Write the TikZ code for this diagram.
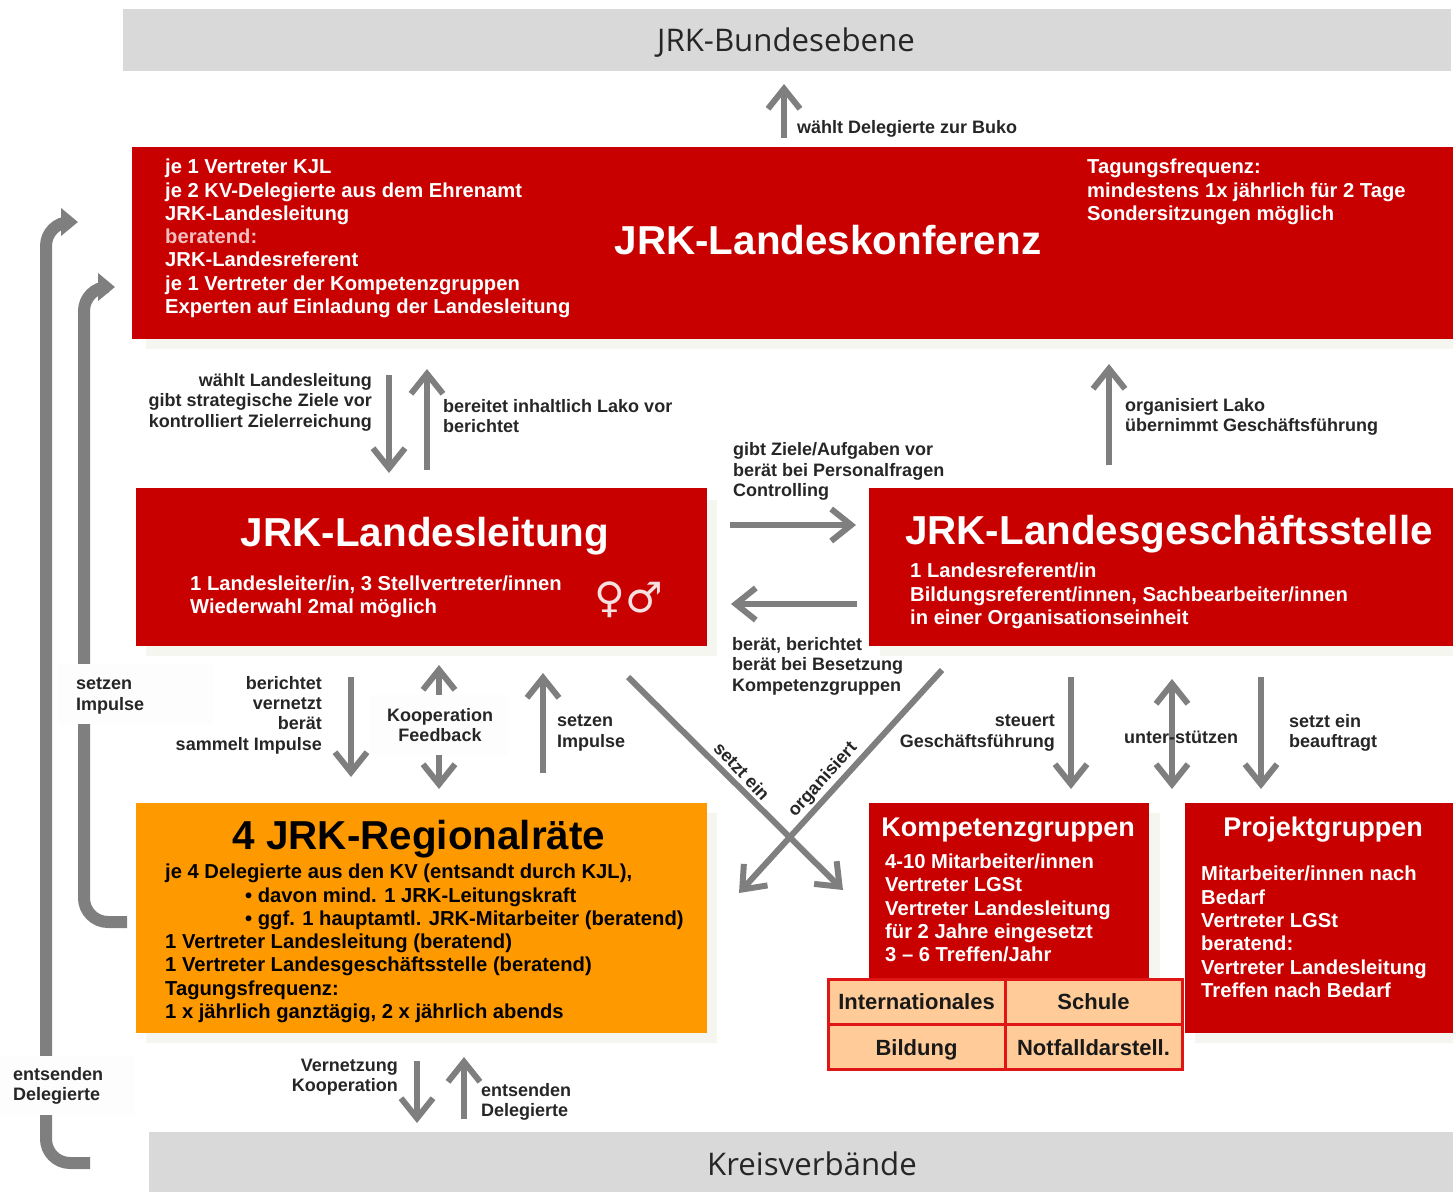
\documentclass[tikz,border=0pt]{standalone}
\usepackage{fontspec}
\usetikzlibrary{arrows.meta}
\setmainfont{Liberation Sans}
\newfontfamily\lblf{Liberation Sans Bold}
\newfontfamily\boxf{Liberation Sans Bold}
\newfontfamily\titf{Liberation Sans}[BoldFont={Liberation Sans Bold}]
\newfontfamily\barf{Open Sans}
\newfontfamily\symf{DejaVu Sans}
\definecolor{jrkred}{HTML}{C80000}
\definecolor{jrkorange}{HTML}{FF9900}
\definecolor{jrkgrey}{HTML}{D9D9D9}
\definecolor{jrkarrow}{HTML}{7F7F7F}
\definecolor{jrkpeach}{HTML}{FFCC99}
\definecolor{jrkline}{HTML}{E01515}
\definecolor{jrkshadow}{HTML}{F6F6F1}
\definecolor{jrkbox}{HTML}{FDFDFD}
\tikzset{
  arr/.style={draw=jrkarrow,line width=6pt,-{Straight Barb[length=20pt,width=32pt,line width=6pt]}},
  arrboth/.style={draw=jrkarrow,line width=6pt,{Straight Barb[length=20pt,width=32pt,line width=6pt]}-{Straight Barb[length=20pt,width=32pt,line width=6pt]}},
  bentarrow/.style={draw=jrkarrow,line width=12pt,rounded corners=24pt,-{Triangle[length=17pt,width=27pt]}},
  shadowbox/.style={fill=jrkshadow,draw=none},
  lbl/.style={font=\fontsize{18}{20.4}\lblf,inner sep=0pt,text=black!85},
  lblL/.style={lbl,anchor=west,align=left},
  lblR/.style={lbl,anchor=east,align=right},
  lblC/.style={lbl,anchor=center,align=center},
  boxtext/.style={font=\fontsize{20.2}{23.3}\boxf,inner sep=0pt,text=white,anchor=west,align=left},
  bigtitle/.style={font=\fontsize{40.4}{44}\titf\bfseries,inner sep=0pt,text=white,anchor=center},
  subtitle/.style={font=\fontsize{27}{32}\titf\bfseries,inner sep=0pt,text=white,anchor=center},
  tablecell/.style={fill=jrkpeach,draw=jrkline,line width=3pt},
  celltext/.style={font=\fontsize{22}{24}\boxf,inner sep=0pt,text=black!90,anchor=base},
  bartext/.style={font=\fontsize{31.2}{36}\barf,inner sep=0pt,text=black!85,anchor=center},
  gapbox/.style={fill=jrkbox,draw=none}
}
\begin{document}
\begin{tikzpicture}[x=1pt,y=-1pt]
\useasboundingbox (0,0) rectangle (1453,1192);
% shadows
\fill[shadowbox] (146,160) rectangle (1453,349);
\fill[shadowbox] (146,500) rectangle (717,656);
\fill[shadowbox] (880,500) rectangle (1453,656);
\fill[shadowbox] (146,813) rectangle (717,1043);
\fill[shadowbox] (880,813) rectangle (1160,980);
\fill[shadowbox] (1195,813) rectangle (1453,1043);
% bars
\fill[jrkgrey] (123,9) rectangle (1451,71);
\node[bartext] (bund) at (786,43) {JRK-Bundesebene};
\fill[jrkgrey] (149,1132) rectangle (1453,1192);
\node[bartext] (kreis) at (812,1164) {Kreisverbände};
% long left arrows
\coordinate (e1s) at (90,1163); \coordinate (e1c) at (46,1163); \coordinate (e1d) at (46,222); \coordinate (e1e) at (78,222);
\draw[bentarrow] (e1s) -- (e1c) -- (e1d) -- (e1e);
\coordinate (e2s) at (127,922); \coordinate (e2c) at (84,922); \coordinate (e2d) at (84,287); \coordinate (e2e) at (115,287);
\draw[bentarrow] (e2s) -- (e2c) -- (e2d) -- (e2e);
\fill[gapbox] (0,1056) rectangle (135,1115);
\node[lblL] (l1) at (13,1086) {entsenden\\Delegierte};
\fill[gapbox] (58,664) rectangle (213,724);
\node[lblL] (l2) at (76,696) {setzen\\Impulse};
% red boxes
\fill[jrkred] (132,147) rectangle (1453,339);
\fill[jrkred] (136,488) rectangle (707,646);
\fill[jrkred] (869,488) rectangle (1453,646);
\fill[jrkorange] (136,803) rectangle (707,1033);
\fill[jrkred] (869,803) rectangle (1149,980);
\fill[jrkred] (1185,803) rectangle (1453,1033);
% Landeskonferenz
\node[boxtext] (lk1) at (165,238.5) {je 1 Vertreter KJL\\je 2 KV-Delegierte aus dem Ehrenamt\\JRK-Landesleitung\\\textcolor{white!75!jrkred}{beratend:}\\JRK-Landesreferent\\je 1 Vertreter der Kompetenzgruppen\\Experten auf Einladung der Landesleitung};
\node[bigtitle] (lk) at (828,240) {JRK-Landeskonferenz};
\node[boxtext] (lk2) at (1087,192) {Tagungsfrequenz:\\mindestens 1x jährlich für 2 Tage\\Sondersitzungen möglich};
% Landesleitung
\node[bigtitle] (ll) at (425,536) {JRK-Landesleitung};
\node[boxtext] (ll1) at (190,597) {1 Landesleiter/in, 3 Stellvertreter/innen\\Wiederwahl 2mal möglich};
\node[font=\fontsize{42}{44}\symf,text=white!88!jrkred,inner sep=0pt] (sym) at (629,600) {♀♂};
% Geschaeftsstelle
\node[bigtitle] (gs) at (1169,534) {JRK-Landesgeschäftsstelle};
\node[boxtext] (gs1) at (910,596) {1 Landesreferent/in\\Bildungsreferent/innen, Sachbearbeiter/innen\\in einer Organisationseinheit};
% Regionalraete
\node[bigtitle,text=black] (rr) at (419,839) {4 JRK-Regionalräte};
\node[boxtext,text=black] (rr1) at (165,943.5) {je 4 Delegierte aus den KV (entsandt durch KJL),\\\hspace*{80pt}• davon mind. 1 JRK-Leitungskraft\\\hspace*{80pt}• ggf. 1 hauptamtl. JRK-Mitarbeiter (beratend)\\1 Vertreter Landesleitung (beratend)\\1 Vertreter Landesgeschäftsstelle (beratend)\\Tagungsfrequenz:\\1 x jährlich ganztägig, 2 x jährlich abends};
% Kompetenzgruppen
\node[subtitle] (kg) at (1008,830) {Kompetenzgruppen};
\node[boxtext] (kg1) at (885,908) {4-10 Mitarbeiter/innen\\Vertreter LGSt\\Vertreter Landesleitung\\für 2 Jahre eingesetzt\\3 – 6 Treffen/Jahr};
% Projektgruppen
\node[subtitle] (pg) at (1323,830) {Projektgruppen};
\node[boxtext] (pg1) at (1201,932) {Mitarbeiter/innen nach\\Bedarf\\Vertreter LGSt\\beratend:\\Vertreter Landesleitung\\Treffen nach Bedarf};
% table
\draw[tablecell] (828.5,979.5) rectangle (1005,1024.5);
\draw[tablecell] (1005,979.5) rectangle (1182,1024.5);
\draw[tablecell] (828.5,1024.5) rectangle (1005,1069);
\draw[tablecell] (1005,1024.5) rectangle (1182,1069);
\node[celltext] (c1) at (916.5,1009) {Internationales};
\node[celltext] (c2) at (1093.5,1009) {Schule};
\node[celltext] (c3) at (916.5,1055) {Bildung};
\node[celltext] (c4) at (1093.5,1055) {Notfalldarstell.};
% small arrows
\coordinate (a1s) at (784,138); \coordinate (a1e) at (784,84); \draw[arr] (a1s) -- (a1e);
\node[lblL] (t1) at (797,129) {wählt Delegierte zur Buko};
\coordinate (a2s) at (389,375); \coordinate (a2e) at (389,473); \draw[arr] (a2s) -- (a2e);
\node[lblR] (t2) at (372,402) {wählt Landesleitung\\gibt strategische Ziele vor\\kontrolliert Zielerreichung};
\coordinate (a3s) at (427,470); \coordinate (a3e) at (427,369); \draw[arr] (a3s) -- (a3e);
\node[lblL] (t3) at (443,416) {bereitet inhaltlich Lako vor\\berichtet};
\coordinate (a4s) at (1109,465); \coordinate (a4e) at (1109,364); \draw[arr] (a4s) -- (a4e);
\node[lblL] (t4) at (1125,417) {organisiert Lako\\übernimmt Geschäftsführung};
\coordinate (a5s) at (730,525); \coordinate (a5e) at (856,525); \draw[arr] (a5s) -- (a5e);
\node[lblL] (t5) at (733,471.5) {gibt Ziele/Aufgaben vor\\berät bei Personalfragen\\Controlling};
\coordinate (a6s) at (857,604); \coordinate (a6e) at (731,604); \draw[arr] (a6s) -- (a6e);
\node[lblL] (t6) at (732,666) {berät, berichtet\\berät bei Besetzung\\Kompetenzgruppen};
\coordinate (a7s) at (351,677); \coordinate (a7e) at (351,777); \draw[arr] (a7s) -- (a7e);
\node[lblR] (t7) at (322,715) {berichtet\\vernetzt\\berät\\sammelt Impulse};
\fill[gapbox] (370,695) rectangle (508,755);
\coordinate (a8s) at (439,695); \coordinate (a8e) at (439,665); \draw[arr] (a8s) -- (a8e);
\coordinate (a9s) at (439,755); \coordinate (a9e) at (439,789); \draw[arr] (a9s) -- (a9e);
\node[lblC] (t8) at (440,725) {Kooperation\\Feedback};
\coordinate (a10s) at (543,773); \coordinate (a10e) at (543,673); \draw[arr] (a10s) -- (a10e);
\node[lblL] (t9) at (557,733) {setzen\\Impulse};
\coordinate (a11s) at (628,677); \coordinate (a11e) at (843,890); \draw[arr] (a11s) -- (a11e);
\coordinate (a12s) at (942,670); \coordinate (a12e) at (739,893); \draw[arr] (a12s) -- (a12e);
\node[lbl,rotate=-47] (t10) at (742,771) {setzt ein};
\node[lbl,rotate=48] (t11) at (823,780) {organisiert};
\coordinate (a13s) at (1071,677); \coordinate (a13e) at (1071,789); \draw[arr] (a13s) -- (a13e);
\node[lblR] (t12) at (1055,733) {steuert\\Geschäftsführung};
\coordinate (a14s) at (1172,679); \coordinate (a14e) at (1172,789); \draw[arrboth] (a14s) -- (a14e);
\node[lblC] (t13) at (1181,737) {unter-stützen};
\coordinate (a15s) at (1261,677); \coordinate (a15e) at (1261,789); \draw[arr] (a15s) -- (a15e);
\node[lblL] (t14) at (1289,733) {setzt ein\\beauftragt};
\coordinate (a16s) at (417,1061); \coordinate (a16e) at (417,1123); \draw[arr] (a16s) -- (a16e);
\node[lblR] (t15) at (398,1077) {Vernetzung\\Kooperation};
\coordinate (a17s) at (464,1119); \coordinate (a17e) at (464,1057); \draw[arr] (a17s) -- (a17e);
\node[lblL] (t16) at (481,1102) {entsenden\\Delegierte};
\end{tikzpicture}
\end{document}
